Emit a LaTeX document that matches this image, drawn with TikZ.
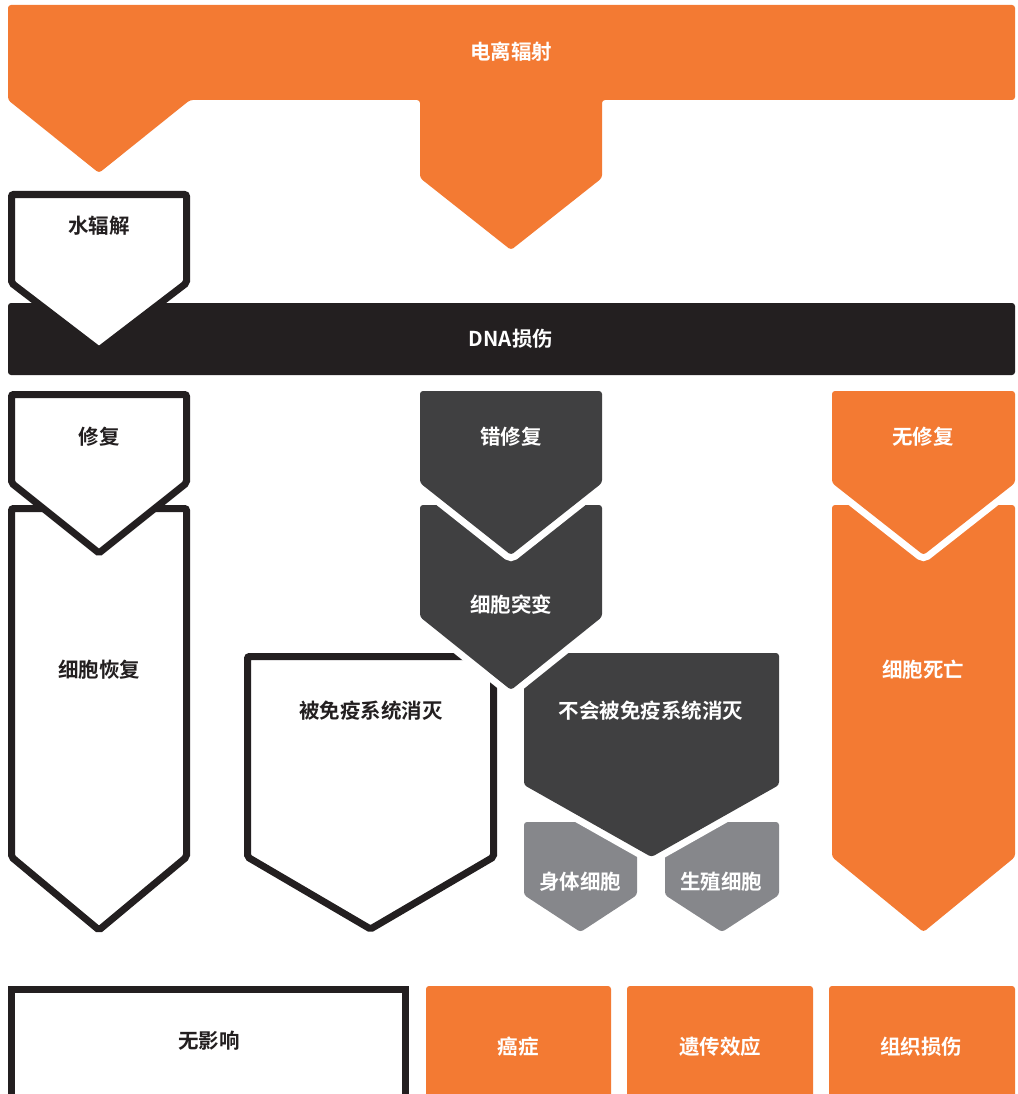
\documentclass[tikz,border=0pt]{standalone}
\usepackage{fontspec}
\setmainfont{Noto Sans CJK SC}[BoldFont={Noto Sans CJK SC Bold}]
\definecolor{orng}{HTML}{F37A33}
\definecolor{ink}{HTML}{231F20}
\definecolor{dgrey}{HTML}{404041}
\definecolor{mgrey}{HTML}{86878B}
\newcommand\chev[6][]{\path[#1] (#2,#4) -- (#3,#4) -- (#3,#5) -- ({(#2+#3)/2},#6) -- (#2,#5) -- cycle;}
\tikzset{
  lbl/.style={font=\fontsize{20.5}{23}\selectfont\bfseries, inner sep=0pt},
  wl/.style={lbl, text=white},
  kl/.style={lbl, text=ink},
  fo/.style={fill=orng, rounded corners=3},
  fd/.style={fill=dgrey, rounded corners=3},
  fg/.style={fill=mgrey, rounded corners=3},
  halo/.style={preaction={draw=white, line width=14, rounded corners=3}},
  ob/.style={draw=ink, fill=white, line width=7, rounded corners=2},
}
\begin{document}
\begin{tikzpicture}[x=1pt, y=-1pt]
\clip (0,0) rectangle (1017,1094);
\fill[white] (0,0) rectangle (1017,1094);
% top: ionizing radiation
\path[fo] (8,5) -- (1015,5) -- (1015,100) -- (602,100) -- (602,178) -- (511,250) -- (420,178) -- (420,100) -- (190,100) -- (99,173) -- (8,100) -- cycle;
\node[wl] (ion) at (511,52) {电离辐射};
% DNA bar
\path[fill=ink, rounded corners=3] (8,303) rectangle (1015,375);
\node[wl] (dna) at (511,339) {DNA损伤};
% water radiolysis
\chev[ob]{11.5}{186.5}{194.5}{283}{350}
\node[kl] (water) at (99,226) {水辐解};
% left column
\chev[ob]{11.5}{186.5}{508.5}{857}{930}
\chev[ob]{11.5}{186.5}{394.5}{483}{553}
\node[kl] (rep) at (99,437) {修复};
\node[kl] (rec) at (99,670) {细胞恢复};
% right column
\chev[fo]{832}{1015}{505}{857}{932}
\chev[fo,halo]{832}{1015}{391}{483}{555}
\node[wl] (norep) at (923,437) {无修复};
\node[wl] (death) at (923,670) {细胞死亡};
% middle
\chev[fg]{524}{637}{822}{895}{932}
\chev[fg]{665}{779}{822}{895}{932}
\chev[fd,halo]{524}{779}{653}{785}{857}
\chev[ob]{247.5}{493.5}{656.5}{857}{929}
\chev[fd,halo]{420}{602}{505}{617}{690}
\chev[fd,halo]{420}{602}{391}{483}{555}
\node[wl] (mis) at (511,437) {错修复};
\node[wl] (mut) at (511,605) {细胞突变};
\node[kl] (kill) at (371,711) {被免疫系统消灭};
\node[wl] (nokill) at (651,711) {不会被免疫系统消灭};
\node[wl] (soma) at (580,882) {身体细胞};
\node[wl] (germ) at (721,882) {生殖细胞};
% bottom row
\path[ob, rounded corners=0] (11.5,989.5) rectangle (405.5,1110);
\node[kl] (none) at (209,1041) {无影响};
\path[fo] (426,986) rectangle (611,1110);
\path[fo] (627,986) rectangle (813,1110);
\path[fo] (829,986) rectangle (1015,1110);
\node[wl] (cancer) at (518,1047) {癌症};
\node[wl] (gen) at (720,1047) {遗传效应};
\node[wl] (tis) at (921,1047) {组织损伤};
\end{tikzpicture}
\end{document}
